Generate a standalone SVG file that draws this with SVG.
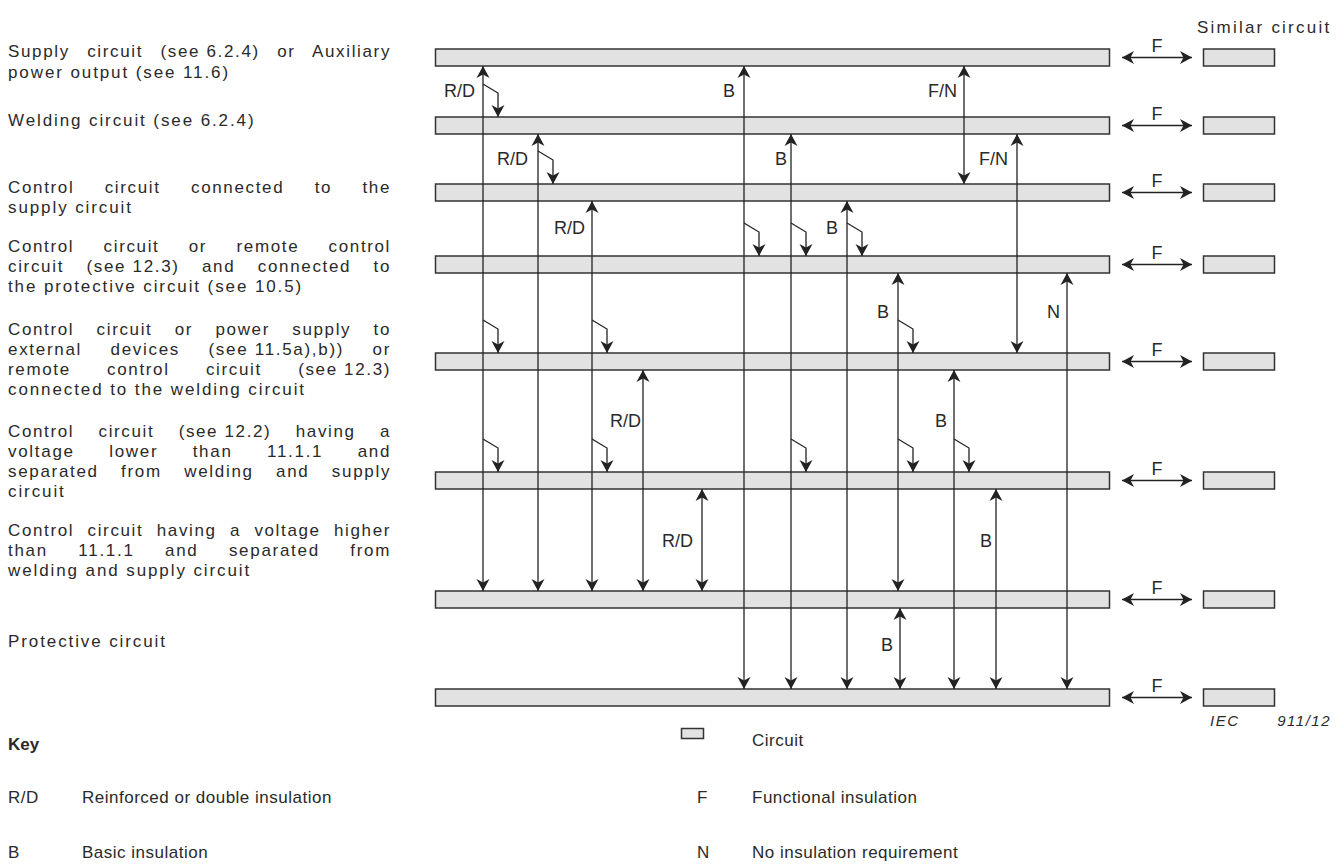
<svg xmlns="http://www.w3.org/2000/svg" width="1344" height="864" viewBox="0 0 1344 864">
<style>
text{font-family:"Liberation Sans",Arial,sans-serif;fill:#2a2a2a}
.t{font-size:17px;letter-spacing:1.9px}
.j{font-size:17px;letter-spacing:1.6px}
.k{font-size:17px;letter-spacing:0.5px}
.a{font-size:18px;text-anchor:end}
.f{font-size:18px;text-anchor:middle}
.bar{fill:#e2e2e2;stroke:#333;stroke-width:1.5}
.d{fill:none;stroke:#222;stroke-width:1.3;marker-start:url(#ah);marker-end:url(#ah)}
.b{fill:none;stroke:#222;stroke-width:1.3;marker-end:url(#ah)}
</style>
<defs>
<marker id="ah" viewBox="-13 -7 14 14" refX="0" refY="0" markerWidth="14" markerHeight="14" markerUnits="userSpaceOnUse" orient="auto-start-reverse">
<path d="M0,0 L-12,-6.5 L-8.5,0 L-12,6.5 Z" fill="#222"/>
</marker>
</defs>

<g id="labels-left">
<text class="j" x="8" y="57" textLength="383" lengthAdjust="spacing" style="word-spacing:11px">Supply circuit <tspan style="word-spacing:0">(see 6.2.4)</tspan> or Auxiliary</text>
<text class="t" x="8" y="78">power output (see 11.6)</text>
<text class="t" x="8" y="126">Welding circuit (see 6.2.4)</text>
<text class="j" x="8" y="193" textLength="383" lengthAdjust="spacing" style="word-spacing:24px">Control circuit connected to the</text>
<text class="t" x="8" y="213">supply circuit</text>
<text class="j" x="8" y="252" textLength="383" lengthAdjust="spacing" style="word-spacing:23px">Control circuit or remote control</text>
<text class="j" x="8" y="272" textLength="383" lengthAdjust="spacing" style="word-spacing:16px">circuit <tspan style="word-spacing:0">(see 12.3)</tspan> and connected to</text>
<text class="t" x="8" y="292">the protective circuit (see 10.5)</text>
<text class="j" x="8" y="335" textLength="383" lengthAdjust="spacing" style="word-spacing:16px">Control circuit or power supply to</text>
<text class="j" x="8" y="355" textLength="383" lengthAdjust="spacing" style="word-spacing:22px">external devices <tspan style="word-spacing:0">(see 11.5a),b))</tspan> or</text>
<text class="j" x="8" y="375" textLength="383" lengthAdjust="spacing" style="word-spacing:30px">remote control circuit <tspan style="word-spacing:0">(see 12.3)</tspan></text>
<text class="t" x="8" y="395">connected to the welding circuit</text>
<text class="j" x="8" y="437" textLength="383" lengthAdjust="spacing" style="word-spacing:18px">Control circuit <tspan style="word-spacing:0">(see 12.2)</tspan> having a</text>
<text class="j" x="8" y="457" textLength="383" lengthAdjust="spacing" style="word-spacing:28px">voltage lower than 11.1.1 and</text>
<text class="j" x="8" y="477" textLength="383" lengthAdjust="spacing" style="word-spacing:16px">separated from welding and supply</text>
<text class="t" x="8" y="497">circuit</text>
<text class="j" x="8" y="536" textLength="383" lengthAdjust="spacing" style="word-spacing:7px">Control circuit having a voltage higher</text>
<text class="j" x="8" y="556" textLength="383" lengthAdjust="spacing" style="word-spacing:24px">than 11.1.1 and separated from</text>
<text class="t" x="8" y="576">welding and supply circuit</text>
<text class="t" x="8" y="647">Protective circuit</text>
</g>

<text id="similar-label" class="t" x="1197" y="33" textLength="134" lengthAdjust="spacing">Similar circuit</text>

<g id="circuit-1"><rect class="bar" x="435.5" y="49" width="674" height="17"/><rect class="bar" x="1203.5" y="49" width="71" height="17"/></g>
<g id="circuit-2"><rect class="bar" x="435.5" y="117" width="674" height="17"/><rect class="bar" x="1203.5" y="117" width="71" height="17"/></g>
<g id="circuit-3"><rect class="bar" x="435.5" y="184" width="674" height="17"/><rect class="bar" x="1203.5" y="184" width="71" height="17"/></g>
<g id="circuit-4"><rect class="bar" x="435.5" y="256" width="674" height="17"/><rect class="bar" x="1203.5" y="256" width="71" height="17"/></g>
<g id="circuit-5"><rect class="bar" x="435.5" y="353" width="674" height="17"/><rect class="bar" x="1203.5" y="353" width="71" height="17"/></g>
<g id="circuit-6"><rect class="bar" x="435.5" y="472" width="674" height="17"/><rect class="bar" x="1203.5" y="472" width="71" height="17"/></g>
<g id="circuit-7"><rect class="bar" x="435.5" y="591" width="674" height="17"/><rect class="bar" x="1203.5" y="591" width="71" height="17"/></g>
<g id="circuit-8"><rect class="bar" x="435.5" y="689" width="674" height="17"/><rect class="bar" x="1203.5" y="689" width="71" height="17"/></g>

<g id="connectors">
<path class="d" d="M483,66 V591"/>
<path class="d" d="M538,134 V591"/>
<path class="d" d="M592,201 V591"/>
<path class="d" d="M643,370 V591"/>
<path class="d" d="M702,489 V591"/>
<path class="d" d="M744,66 V689"/>
<path class="d" d="M791,134 V689"/>
<path class="d" d="M847,201 V689"/>
<path class="d" d="M898,273 V591"/>
<path class="d" d="M900,608 V689"/>
<path class="d" d="M954,370 V689"/>
<path class="d" d="M996,489 V689"/>
<path class="d" d="M964,66 V184"/>
<path class="d" d="M1017,134 V353"/>
<path class="d" d="M1067,273 V689"/>

<path class="b" d="M483,84 L498,93 V117"/>
<path class="b" d="M538,151 L553,160 V184"/>
<path class="b" d="M744,223 L759,232 V256"/>
<path class="b" d="M791,223 L806,232 V256"/>
<path class="b" d="M847,223 L862,232 V256"/>
<path class="b" d="M483,320 L498,329 V353"/>
<path class="b" d="M592,320 L607,329 V353"/>
<path class="b" d="M898,320 L913,329 V353"/>
<path class="b" d="M483,439 L498,448 V472"/>
<path class="b" d="M592,439 L607,448 V472"/>
<path class="b" d="M791,439 L806,448 V472"/>
<path class="b" d="M898,439 L913,448 V472"/>
<path class="b" d="M954,439 L969,448 V472"/>

<path class="d" d="M1122,57.5 H1192"/>
<path class="d" d="M1122,125.5 H1192"/>
<path class="d" d="M1122,192.5 H1192"/>
<path class="d" d="M1122,264.5 H1192"/>
<path class="d" d="M1122,361.5 H1192"/>
<path class="d" d="M1122,480.5 H1192"/>
<path class="d" d="M1122,599.5 H1192"/>
<path class="d" d="M1122,697.5 H1192"/>
</g>

<g id="connector-labels">
<text class="a" x="475" y="97">R/D</text>
<text class="a" x="735" y="97">B</text>
<text class="a" x="957" y="97">F/N</text>
<text class="a" x="528" y="165">R/D</text>
<text class="a" x="787" y="165">B</text>
<text class="a" x="1008" y="165">F/N</text>
<text class="a" x="585" y="234">R/D</text>
<text class="a" x="838" y="234">B</text>
<text class="a" x="889" y="318">B</text>
<text class="a" x="1060" y="318">N</text>
<text class="a" x="641" y="427">R/D</text>
<text class="a" x="947" y="427">B</text>
<text class="a" x="693" y="547">R/D</text>
<text class="a" x="992" y="547">B</text>
<text class="a" x="893" y="651">B</text>
<text class="f" x="1157" y="52">F</text>
<text class="f" x="1157" y="120">F</text>
<text class="f" x="1157" y="187">F</text>
<text class="f" x="1157" y="259">F</text>
<text class="f" x="1157" y="356">F</text>
<text class="f" x="1157" y="475">F</text>
<text class="f" x="1157" y="594">F</text>
<text class="f" x="1157" y="692">F</text>
</g>

<g id="credit">
<text x="1210" y="726" style="font-size:15px;font-style:italic;letter-spacing:1.5px">IEC</text>
<text x="1331" y="726" text-anchor="end" style="font-size:15px;font-style:italic;letter-spacing:1.5px">911/12</text>
</g>

<g id="key">
<text x="8" y="750" style="font-size:17px;font-weight:bold">Key</text>
<rect class="bar" x="681.5" y="728.5" width="22" height="10"/>
<text class="k" x="752" y="746">Circuit</text>
<text class="k" x="8" y="803">R/D</text>
<text class="k" x="82" y="803">Reinforced or double insulation</text>
<text class="k" x="697" y="803">F</text>
<text class="k" x="752" y="803">Functional insulation</text>
<text class="k" x="8" y="858">B</text>
<text class="k" x="82" y="858">Basic insulation</text>
<text class="k" x="697" y="858">N</text>
<text class="k" x="752" y="858">No insulation requirement</text>
</g>
</svg>
